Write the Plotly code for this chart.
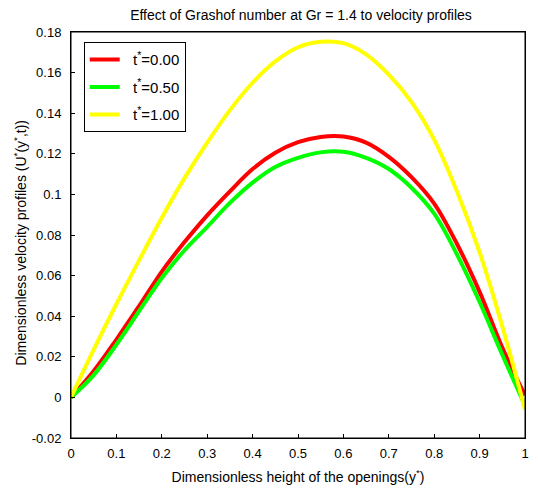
import plotly.graph_objects as go

# Dimensionless height of the openings y*
y_star = [0, 0.05, 0.1, 0.15, 0.2, 0.25, 0.3, 0.35, 0.4, 0.45, 0.5,
          0.55, 0.6, 0.65, 0.7, 0.75, 0.8, 0.85, 0.9, 0.95, 1.0]

u_t000 = [0, 0.013, 0.0285, 0.045, 0.062, 0.0765, 0.0897, 0.1015, 0.1125, 0.1205, 0.1257,
          0.1283, 0.1285, 0.1255, 0.1185, 0.1085, 0.0955, 0.0757, 0.052, 0.0245, 0.001]
u_t050 = [0, 0.011, 0.026, 0.0425, 0.0588, 0.0725, 0.084, 0.0958, 0.1058, 0.1135, 0.118,
          0.1207, 0.121, 0.118, 0.1125, 0.1033, 0.0905, 0.0705, 0.047, 0.021, -0.004]
u_t100 = [0, 0.0235, 0.046, 0.0675, 0.0885, 0.108, 0.1255, 0.1415, 0.155, 0.1655, 0.1725,
          0.1752, 0.1745, 0.169, 0.159, 0.1455, 0.127, 0.1015, 0.0715, 0.035, -0.006]

series_names = ["t<sup>*</sup>=0.00", "t<sup>*</sup>=0.50", "t<sup>*</sup>=1.00"]
series_colors = ["#ff0000", "#00ff00", "#ffff00"]

x_tickvals = [0, 0.1, 0.2, 0.3, 0.4, 0.5, 0.6, 0.7, 0.8, 0.9, 1]
x_ticktext = ["0", "0.1", "0.2", "0.3", "0.4", "0.5", "0.6", "0.7", "0.8", "0.9", "1"]
y_tickvals = [-0.02, 0, 0.02, 0.04, 0.06, 0.08, 0.1, 0.12, 0.14, 0.16, 0.18]
y_ticktext = ["-0.02", "0", "0.02", "0.04", "0.06", "0.08", "0.1", "0.12", "0.14", "0.16", "0.18"]

FONT = "Liberation Sans, Arial, sans-serif"
X_RANGE = [0, 1]
Y_RANGE = [-0.02, 0.18]

fig = go.Figure()
for i, (vals, name, col) in enumerate(zip([u_t000, u_t050, u_t100], series_names, series_colors)):
    fig.add_trace(go.Scatter(
        x=y_star, y=vals, mode="lines", name="\u00a0\u00a0" + name, legendgroup=f"g{i}",
        line=dict(color=col, width=4, shape="spline", smoothing=1.0),
    ))

axis_common = dict(
    showline=True, linecolor="black", linewidth=1, mirror=True,
    ticks="inside", ticklen=4, tickcolor="black", showgrid=False, zeroline=False,
    tickfont=dict(family=FONT, size=13, color="black"),
)

W, H = 522, 487
fig.update_layout(
    width=W, height=H,
    margin=dict(l=63, r=1, t=24, b=57),
    paper_bgcolor="white", plot_bgcolor="white",
    font=dict(family=FONT, size=13, color="black"),
    title=dict(text="Effect of Grashof number at Gr = 1.4 to velocity profiles",
               x=293 / W, xanchor="center", y=1 - 7.5 / H, yanchor="middle",
               font=dict(family=FONT, size=14, color="black")),
    xaxis=dict(range=X_RANGE, tickvals=x_tickvals, ticktext=x_ticktext,
               title=dict(text="Dimensionless height of the openings(y<sup>*</sup>)",
                          font=dict(family=FONT, size=14), standoff=12),
               ticklabelstandoff=3, ticklabeloverflow="allow", **axis_common),
    yaxis=dict(range=Y_RANGE, tickvals=y_tickvals, ticktext=y_ticktext,
               ticklabelstandoff=6, ticklabeloverflow="allow", **axis_common),
    xaxis2=dict(range=X_RANGE, tickvals=x_tickvals, overlaying="x", side="top",
                anchor="y", ticks="inside", ticklen=4, tickcolor="black",
                showticklabels=False, showgrid=False, zeroline=False,
                showline=True, linecolor="black", linewidth=1),
    yaxis2=dict(range=Y_RANGE, tickvals=y_tickvals, overlaying="y", side="right",
                anchor="x", ticks="inside", ticklen=4, tickcolor="black",
                showticklabels=False, showgrid=False, zeroline=False,
                showline=True, linecolor="black", linewidth=1),
    legend=dict(x=0.028, y=0.975, xanchor="left", yanchor="top",
                bgcolor="white", bordercolor="black", borderwidth=1,
                font=dict(family=FONT, size=15, color="black"),
                traceorder="grouped", tracegroupgap=5),
    showlegend=True,
    shapes=[dict(type="rect", xref="paper", yref="paper", x0=0, y0=0, x1=1, y1=1,
                 line=dict(color="black", width=1), fillcolor="rgba(0,0,0,0)", layer="above")],
    annotations=[dict(
        text="Dimensionless velocity profiles (U<sup>*</sup>(y<sup>*</sup>,t))",
        xref="paper", yref="paper", x=-0.111, y=0.48, xanchor="center", yanchor="middle",
        textangle=-90, showarrow=False, font=dict(family=FONT, size=14, color="black"),
    )],
)

fig.write_html("out.html")
